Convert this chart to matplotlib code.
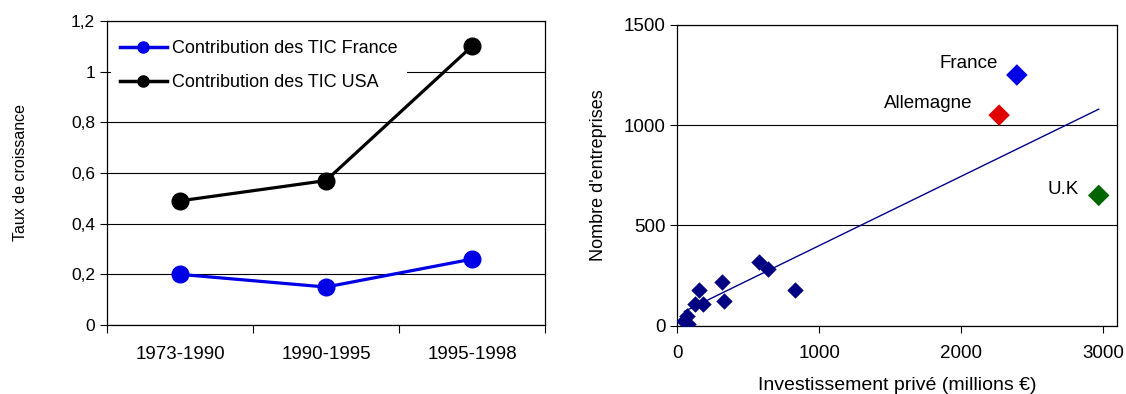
import numpy as np
import matplotlib
matplotlib.use("Agg")
import matplotlib.pyplot as plt
from matplotlib.ticker import FuncFormatter

plt.rcParams['font.family'] = ['Liberation Sans', 'DejaVu Sans']

# Left panel: ICT contribution to growth
periods = ["1973-1990", "1990-1995", "1995-1998"]
tic_france = [0.20, 0.15, 0.26]
tic_usa = [0.49, 0.57, 1.10]

# Right panel: private investment vs number of firms
invest_others = [50, 65, 75, 124, 153, 178, 312, 331, 573, 641, 829]
firms_others = [25, 50, 10, 108, 180, 108, 218, 122, 317, 283, 177]
countries = ["France", "Allemagne", "U.K"]
invest_countries = [2394, 2269, 2971]
firms_countries = [1250, 1050, 650]
country_colors = ["#0000e6", "#e00000", "#006400"]

fig = plt.figure(figsize=(11.26, 3.94), dpi=100)

# ---- left panel ----
ax1 = fig.add_axes([0.095, 0.175, 0.389, 0.772])
x = np.arange(len(periods))
ax1.plot(x, tic_france, color="#0000e6", lw=2.3, marker="o", ms=12,
         label="Contribution des TIC France", zorder=3)
ax1.plot(x, tic_usa, color="black", lw=2.3, marker="o", ms=12,
         label="Contribution des TIC USA", zorder=3)
ax1.set_xlim(-0.5, 2.5)
ax1.set_ylim(0, 1.2)
ax1.set_yticks(np.arange(0, 1.21, 0.2))
ax1.yaxis.set_major_formatter(FuncFormatter(
    lambda v, p: "0" if abs(v) < 1e-9 else ("%g" % round(v, 1)).replace(".", ",")))
ax1.set_xticks(x)
ax1.set_xticklabels(periods)
ax1.set_xticks([-0.5, 0.5, 1.5, 2.5], minor=True)
ax1.tick_params(axis="x", which="major", length=0, pad=15, labelsize=13.5)
ax1.tick_params(axis="x", which="minor", length=6, direction="out", width=0.8)
ax1.tick_params(axis="y", length=5, direction="out", width=0.8, labelsize=12.5)
ax1.grid(axis="y", color="black", lw=0.8, zorder=0)
for s in ax1.spines.values():
    s.set_linewidth(0.9)
ax1.set_ylabel("Taux de croissance", fontsize=11.5)
ax1.yaxis.set_label_coords(-0.18, 0.5)
leg = ax1.legend(loc="upper left", frameon=True, fontsize=13, handlelength=2.6,
                 borderaxespad=0.2, borderpad=0.5, labelspacing=0.95,
                 handletextpad=0.3, bbox_to_anchor=(0.0, 0.978))
leg.get_frame().set_edgecolor("none")
leg.get_frame().set_facecolor("white")
leg.get_frame().set_alpha(1)
for h in leg.legend_handles:
    h.set_markersize(8)
    h.set_linewidth(2.5)
leg.set_zorder(5)

# ---- right panel ----
ax2 = fig.add_axes([0.6015, 0.173, 0.3905, 0.764])
ax2.set_xlim(0, 3100)
ax2.set_ylim(0, 1500)
all_x = np.array(invest_others + invest_countries, dtype=float)
all_y = np.array(firms_others + firms_countries, dtype=float)
slope, intercept = np.polyfit(all_x, all_y, 1)
xs = np.array([all_x.min(), all_x.max()])
ax2.plot(xs, slope * xs + intercept, color="#00008b", lw=1.0, zorder=2)
ax2.scatter(invest_others, firms_others, marker="D", s=70, color="#000080",
            zorder=3, linewidths=0)
ax2.scatter(invest_countries, firms_countries, marker="D", s=120,
            color=country_colors, zorder=3, linewidths=0)
label_offsets = [(-14, 8.6), (-19, 8.6), (-14, 4.3)]
for name, xv, yv, off in zip(countries, invest_countries, firms_countries, label_offsets):
    ax2.annotate(name, (xv, yv), xytext=off, textcoords="offset points",
                 ha="right", va="center", fontsize=13.5)
ax2.set_xticks([0, 1000, 2000, 3000])
ax2.set_yticks([0, 500, 1000, 1500])
ax2.tick_params(axis="both", length=5, direction="out", width=0.8, labelsize=13.5)
ax2.tick_params(axis="x", pad=9)
ax2.grid(axis="y", color="black", lw=0.8, zorder=0)
for s in ax2.spines.values():
    s.set_linewidth(0.9)
ax2.set_ylabel("Nombre d'entreprises", fontsize=13)
ax2.yaxis.set_label_coords(-0.16, 0.5)
ax2.set_xlabel("Investissement privé (millions €)", fontsize=14)
ax2.xaxis.set_label_coords(0.5, -0.17)

fig.savefig("out.png", dpi=100)
